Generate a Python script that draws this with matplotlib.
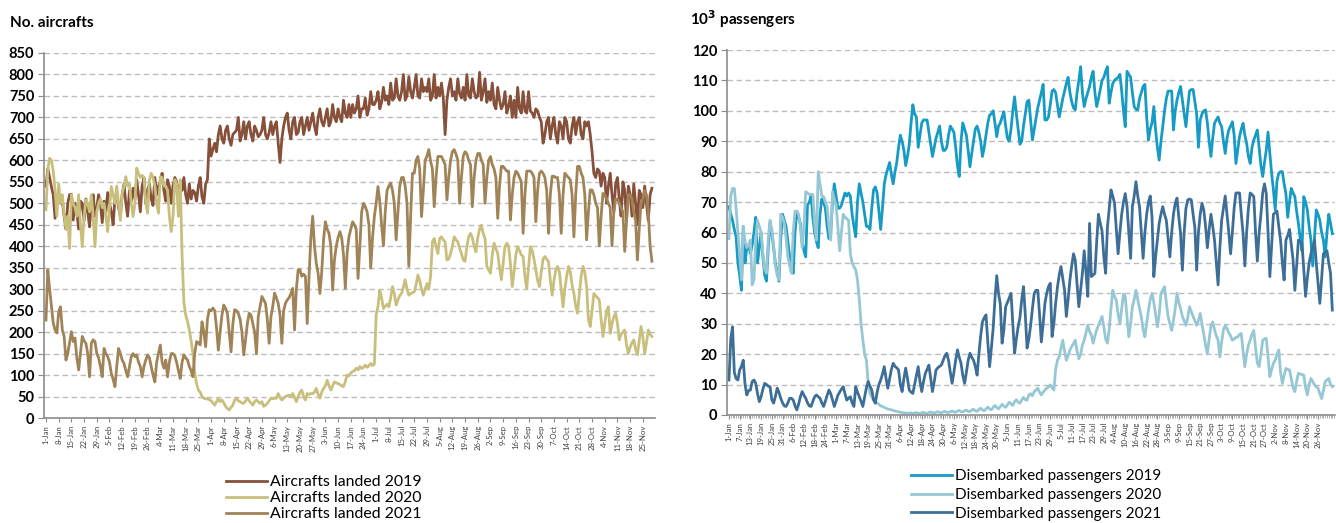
import matplotlib
matplotlib.use("Agg")
import matplotlib.pyplot as plt
import numpy as np

plt.rcParams['font.family'] = ['Lato', 'DejaVu Sans']

# ---------------- LEFT: aircrafts landed (daily, 1-Jan .. 30-Nov) ----------------
left_ticklabels = ["1-Jan","8-Jan","15-Jan","22-Jan","29-Jan","5-Feb","12-Feb","19-Feb","26-Feb",
    "4-Mar","11-Mar","18-Mar","25-Mar","1-Apr","8-Apr","15-Apr","22-Apr","29-Apr","6-May","13-May",
    "20-May","27-May","3-Jun","10-Jun","17-Jun","24-Jun","1-Jul","8-Jul","15-Jul","22-Jul","29-Jul",
    "5-Aug","12-Aug","19-Aug","26-Aug","2-Sep","9-Sep","16-Sep","23-Sep","30-Sep","7-Oct","14-Oct",
    "21-Oct","28-Oct","4-Nov","11-Nov","18-Nov","25-Nov"]

aircraft_2019 = [
540,580,560,538,520,465,515, 515,500,505,470,440,500,520, 521,461,500,480,440,505,500,
460,510,480,445,500,520,470, 490,520,500,455,505,480,525, 500,480,450,510,525,490,470,
520,545,500,470,530,505,535, 510,555,520,480,540,560,500, 530,545,510,495,560,520,540,
550,570,530,505,555,540,500, 540,560,550,515,545,530,560, 520,500,545,510,530,525,505,
540,560,515,500,545,555,650, 610,625,640,620,660,680,650, 640,670,680,650,635,660,665,
670,700,645,660,690,650,680, 690,660,645,680,670,655,660, 670,700,660,650,665,690,660,
680,690,640,595,650,680,700, 710,670,650,690,700,660,665, 690,700,660,680,700,670,690,
710,680,660,700,720,690,680, 700,720,680,690,730,700,690, 720,700,690,740,710,700,730,
700,730,710,720,750,700,720, 720,745,705,720,760,730,730, 740,760,720,735,770,740,750,
730,780,740,745,790,750,740, 760,800,740,750,795,760,745, 770,800,750,745,790,760,770,
760,790,740,750,800,745,770, 750,780,745,660,740,770,790, 750,760,740,790,755,745,770,
740,800,750,745,790,760,745, 750,805,740,760,790,735,760, 740,780,730,720,770,740,720,
730,760,710,725,750,700,740, 700,770,720,710,760,715,710, 760,715,710,700,720,715,700,
690,640,660,690,700,650,680, 700,660,640,690,680,650,700, 690,650,640,680,700,660,690,
700,660,650,690,680,690,660, 620,570,560,580,575,540,570, 560,500,540,570,520,480,545,
560,510,470,550,530,460,540, 520,470,545,500,450,530,520, 490,540,500,460,520,535]

aircraft_2020 = [
485,580,605,600,575,530,470, 545,500,520,475,440,470,395, 520,500,490,470,520,450,399,
470,508,500,480,520,470,399, 480,500,510,490,500,470,434, 490,539,520,500,540,500,460,
523,540,562,540,545,500,469, 500,582,570,560,565,560,500, 477,554,570,560,540,500,477,
562,560,540,540,530,470,434, 470,555,545,470,555,380,270, 240,225,205,180,150,105,80,
65,60,50,46,45,44,43, 40,35,30,38,45,38,42, 35,27,22,19,25,30,42,
46,40,38,35,34,40,46, 40,35,30,38,42,38,34, 38,27,30,34,40,46,45,
46,46,57,48,42,46,50, 52,53,50,57,48,38,50, 60,65,50,42,57,55,57,
57,60,69,55,46,60,69, 75,88,75,65,75,84,82, 80,78,75,73,85,100,98,
105,108,110,116,112,120,115, 118,123,118,122,127,122,125, 240,260,298,280,255,260,265,
259,280,306,290,263,275,285, 290,305,322,300,286,290,292, 294,310,333,320,300,286,300,
313,300,330,410,418,400,383, 418,422,415,410,368,370,383, 400,422,415,410,395,383,368,
365,400,422,430,420,400,387, 420,440,449,430,418,353,345, 337,380,407,395,383,350,322,
360,399,407,400,360,306,340, 380,399,390,380,376,330,302, 350,399,390,370,345,320,306,
340,370,376,370,364,320,286, 320,345,353,340,300,259,300, 330,353,340,310,290,260,244,
290,330,353,340,306,230,213, 250,290,285,280,275,230,190, 220,250,259,197,220,235,244,
220,182,195,200,205,170,150, 165,175,182,160,147,180,213, 190,150,175,205,195,190]

aircraft_2021 = [
228,345,300,260,221,205,198, 248,259,205,190,135,150,175, 201,178,186,140,112,150,190,
180,174,150,96,174,182,178, 150,140,120,96,162,150,143, 130,104,90,73,120,162,150,
135,127,110,96,120,143,150, 143,147,130,120,96,120,135, 147,140,120,100,84,130,150,
170,130,116,135,96,130,150, 150,145,130,110,92,130,147, 140,135,120,110,96,150,178,
175,170,224,200,166,230,252, 250,256,250,210,158,201,240, 263,255,244,200,154,220,252,
250,244,230,200,147,182,220, 244,240,220,200,150,236,260, 283,275,267,230,174,236,260,
291,280,267,240,174,250,267, 275,280,290,302,205,300,345, 345,330,335,330,220,330,420,
470,400,360,337,290,340,415, 457,440,430,401,298,368,400, 420,434,420,380,302,384,422,
440,457,450,440,325,400,480, 500,492,480,450,349,420,469, 500,539,504,450,401,480,530,
540,547,530,500,415,480,540, 560,560,540,500,353,470,570, 570,600,609,580,469,530,600,
610,625,598,580,492,560,609, 609,609,600,590,508,560,600, 620,625,615,600,500,560,610,
620,615,600,590,492,560,600, 616,616,600,590,500,560,600, 609,590,580,560,465,540,586,
586,580,575,575,461,520,560, 575,570,560,550,430,520,575, 575,575,570,560,457,530,570,
575,570,560,530,430,520,563, 563,560,560,520,430,520,570, 565,560,555,520,422,520,586,
586,570,560,520,415,480,531, 531,520,500,490,401,470,523, 520,510,500,490,401,480,510,
510,500,490,480,388,460,520, 520,510,480,460,368,440,500, 510,530,520,480,400,365]

# ---------------- RIGHT: disembarked passengers, thousands (daily) ----------------
right_ticklabels = ["1-Jan","7-Jan","13-Jan","19-Jan","25-Jan","31-Jan","6-Feb","12-Feb","18-Feb",
    "24-Feb","1-Mar","7-Mar","13-Mar","19-Mar","25-Mar","31-Mar","6-Apr","12-Apr","18-Apr","24-Apr",
    "30-Apr","6-May","12-May","18-May","24-May","30-May","5-Jun","11-Jun","17-Jun","23-Jun","29-Jun",
    "5-Jul","11-Jul","17-Jul","23-Jul","29-Jul","4-Aug","10-Aug","16-Aug","22-Aug","28-Aug","3-Sep",
    "9-Sep","15-Sep","21-Sep","27-Sep","3-Oct","9-Oct","15-Oct","21-Oct","27-Oct","2-Nov","8-Nov",
    "14-Nov","20-Nov","26-Nov"]

passengers_2019 = [
68.5,66,64,61,58.6,50,46,41,62,50,55,56,53,56,60,65,50,55,60,52,46,44,55,63,60,55,50,47,44,58,
66,64,62,57,52,49,46.6,60,67,65,63,57,54,52,69,70,72,65,60,57,55,66,71,70,68,62,58,60,70,76,
72,68,68,69,71,73,72,73,72,66,62,58.6,70,76,73,70,66,62,62,61,68,74,75,73,67,61,68,76,79,81,
83,79,76,80,83,88,92,90,87,82,85,89,96,102,99,98,88,92,96,97,97,97,93,89,85,88,91,93,95,90,
87,87,88,92,95,94,93,88,82,78.4,90,96,94,92,87,81.6,86,90,94,95,93,90,85,88,92,96,98.6,99,100,96,
91.5,95,96,98,99.7,95,91,90,94,100,104.6,99,94,89,90,95,99,103,103.5,97,90.4,94,97.5,101,103.5,106,
108.7,97,97,98,102,106.5,107,106,102,98,101,104,106.5,109,111,106,103,101,100.3,106,110,114.5,106,101.4,
104,106,108,111,113,106,101.4,104,107,110,111,113,114.5,102.5,106,109,110,110.5,111,112,106.5,100,94.8,113,
112,111,106,101.4,100.5,100.3,104,106,108,108.7,98,90.4,94,96,101.4,93.7,88,83.8,90,94.8,100,104,106.5,106.5,
106.5,93.7,100,103.5,106,108,103.5,99,94.8,101,106.5,107,107,103,99,88,97,99,100,100.3,96,90,85,91,
95.9,97,98,96,94.8,90,86,91,93.7,95,96.4,92,82.7,87,91.5,94,95.9,92,89.3,85,82.7,88,90.4,92,
93.7,88,82,78.4,83,87.1,93,86,79.5,74,67.4,77,79.5,80,80,76,72.8,65,70,74.5,73,71.8,67,63,
58,54,71.8,70,67.4,62,57.5,49,58,67.4,66,64,60,57.5,52,60,66,63,59.6]

passengers_2020 = [
58,72,74.5,74.5,68,60,53,44.4,62,57,55,56,57.5,42.8,44.4,58,64,62,60,53,48,46.6,58,64,61,56,49,46,44.4,66,
65,63,58,52,49,46.6,60,67,67,66,62,55,62,73.4,73,72.5,72.5,72.5,63,57.5,80,76,72,71.8,70,68.5,62,57.5,73.4,71,
69,62,54,60,66,65,64.5,64,53,50,48.8,47.7,44.4,38,30,24.6,20,18,10.4,7,6,5,4,3.9,3.5,3,2.8,2.5,2.2,2,
1.8,1.7,1.5,1.3,1.2,1,0.9,0.8,0.7,0.6,0.6,0.6,0.7,0.5,0.6,0.8,0.6,0.5,0.7,0.9,0.6,0.5,0.8,1.0,0.7,0.6,0.9,1.1,0.8,0.7,
1.0,1.2,0.9,0.8,1.1,1.3,1.0,0.9,1.3,1.5,1.1,1.0,1.4,1.6,1.2,1.1,1.6,1.9,1.4,1.2,1.8,2.2,1.7,1.4,2.0,2.6,2.0,1.7,2.5,3.1,
2.5,2.0,2.8,3.5,2.9,2.5,3.4,4.2,3.6,3.2,4.4,5.0,4.2,3.9,4.9,5.8,5.0,4.9,6.6,7.0,6.3,7.7,8.2,8.8,7.5,6.6,7.5,8.2,8.8,9.2,
9.9,9.0,8.2,15,18,19.1,22,24.6,21,18,19.5,21.4,22.5,23.5,24.6,21,18.5,20,23,24.6,27,29.5,27.5,26.3,23.6,26,28,29.5,31,32.4,
29,25,23.6,28,35,41,39,37.7,33,30,35,39.8,39,32,25.7,30,35.6,38,41,38,35,32.4,28,25.7,30,34.5,38,40,37,33,
29,33,40,41,42.2,37,32.4,30,27.8,31,35,40,37,35,32.4,31,29.5,32,35.6,34,32.4,31,29.5,31,33.4,30,26.8,23,20.2,25,
29.5,30.6,28,26,24.6,19.1,24,28,29.5,28.4,27,26,24.6,25,25.5,25.7,26.5,26.8,21,15.9,20,23,24.6,26.5,27.8,22,17,15.9,20,24.6,
25,25.2,19,12.6,15,17,18,20,21.4,14,10.4,13,15.3,15,14.8,12,9,7.7,11,13.7,13.5,13.3,13.1,9,6.6,10,12,11,9.9,9.3,
8.8,7,5.4,8,11,11.5,12,10,9.3]

passengers_2021 = [
11.5,25,29,14,12,11.5,14.8,16,18,10,6.6,8,8.2,11,11.5,10.4,7,4.4,6,8.5,10.4,10,9.5,9.3,5,3.9,6,8.8,7.5,5.5,
4,3,2.8,4,5.5,5.5,4.9,3,1.7,3.5,6,7.7,6.5,5.5,4,3,2.8,4.5,6,6.6,6,5.5,4,2.8,4.5,6.5,8.2,7,5,2.8,
4.5,6.5,7.5,8.5,9.3,7,4.9,5.5,6,4,2.8,9.3,7.5,6,4.5,2.8,6,9,11,9.5,8.2,5,3.9,7.5,10,11.5,13.5,15.9,12,8.8,
12,15,17,16,15.5,14.8,10,7.7,12,15.4,12,8.2,7.5,7.1,10,13,15.9,11,7.7,11,13.7,15,16.4,12,7.7,11,14.8,15.5,16,16.4,
18,19.5,20.3,18,14,10.4,14,18,21.4,19,17,13,10.4,14,18,20.3,19,18,16,13.1,20,26,30.6,32,32.9,24,15.9,22,28.5,38,
45.8,40,36.5,23.6,28,35.6,37,38.5,40,30,20.3,25,29,32,38,42.2,33,22,25,29.5,35,40,41,41,33,24,30,36.7,40,42.2,
43.3,25.8,30,36.7,42,46,48.8,45,41,32.4,38,44.4,49,53,50.9,43,35.6,41,46.6,54,47,39,63,45.5,46,46.6,57,66,63,60.5,
52,46.6,61.6,68,74,72,69.6,61,53,60,66,70,72.8,68.5,60,51.5,68.5,72,76.7,72,68.5,60,51.5,60,66,70,72,65,45.5,52,
57.5,63,66,68.5,66,64,58,52,60,66,69.6,71.3,65,59.6,47.6,60,68,70.7,71,70.7,66,61.6,47.6,60,66,69.6,67.4,62,55,61,
66,62,57.5,50,42.8,55,64,68,72,66,60,53,60,68,73,73,73,66,59.6,49,60,68,73,72.5,71.8,60,50.6,60,66,73,
76,72.8,60,45.5,56,66,66.5,67,62,57.5,50,44.4,57.5,59,61,56,51.1,41,49,57.5,57,56.4,48,39,45,50,53,55,57.5,50,
43.3,36.7,45,53,53.5,54,50,46.6,34.5]

# ---------------- styling ----------------
c_a19, c_a20, c_a21 = "#87503A", "#C9BF7C", "#A08458"
c_p19, c_p20, c_p21 = "#169BC4", "#95C7D5", "#3D6E97"
grid_c = "#BDBDBD"
axis_c = "#8C8C8C"

fig = plt.figure(figsize=(13.36, 5.23), dpi=100)
W, H = 1336, 523
axL = fig.add_axes([44 / W, 105 / H, 611 / W, 365 / H])
axR = fig.add_axes([727 / W, 108 / H, 608 / W, 365 / H])


def style(ax, ymax, ystep, labels, step, xmax):
    ax.set_ylim(0, ymax)
    ax.set_xlim(-1.1, xmax)
    ax.set_yticks(np.arange(0, ymax + 1, ystep))
    ax.set_yticklabels([f"{v:g}" for v in np.arange(0, ymax + 1, ystep)],
                       fontsize=10.5, fontweight='bold', color='black')
    ax.yaxis.grid(True, color=grid_c, linestyle=(0, (4, 2.5)), linewidth=1.0)
    ax.set_axisbelow(True)
    ax.set_xticks(np.arange(len(labels)) * step)
    ax.set_xticklabels(labels, rotation=90, fontsize=5.6, color='#404040')
    for s in ('top', 'right'):
        ax.spines[s].set_visible(False)
    for s in ('left', 'bottom'):
        ax.spines[s].set_color(axis_c)
        ax.spines[s].set_linewidth(1.2)
    ax.tick_params(axis='y', length=4, color=axis_c, pad=3)
    ax.tick_params(axis='x', length=3, color=axis_c, pad=2)


style(axL, 850, 50, left_ticklabels, 7, 335.7)
style(axR, 120, 10, right_ticklabels, 6, 339.5)
axR.set_xticks(np.arange(0, 340), minor=True)
axR.tick_params(axis='x', which='minor', length=2, color='#A0A0A0')

lw = 2.0
l1, = axL.plot(np.arange(len(aircraft_2019)), aircraft_2019, color=c_a19, lw=lw, label="Aircrafts landed 2019")
l2, = axL.plot(np.arange(len(aircraft_2020)), aircraft_2020, color=c_a20, lw=lw, label="Aircrafts landed 2020")
l3, = axL.plot(np.arange(len(aircraft_2021)), aircraft_2021, color=c_a21, lw=lw, label="Aircrafts landed 2021")

r1, = axR.plot(np.arange(len(passengers_2019)), passengers_2019, color=c_p19, lw=lw, label="Disembarked passengers 2019")
r2, = axR.plot(np.arange(len(passengers_2020)), passengers_2020, color=c_p20, lw=lw, label="Disembarked passengers 2020")
r3, = axR.plot(np.arange(len(passengers_2021)), passengers_2021, color=c_p21, lw=lw, label="Disembarked passengers 2021")

fig.text(10 / W, 1 - 27 / H, "No. aircrafts", fontsize=11, fontweight='bold', ha='left', va='baseline')
fig.text(690 / W, 1 - 25 / H, "10$^{\\mathbf{3}}$ passengers", fontsize=11, fontweight='bold', ha='left', va='baseline')

fig.legend(handles=[l1, l2, l3], loc='upper left', bbox_to_anchor=(226 / W, 1 - 475 / H),
           frameon=False, fontsize=11.4, handlelength=2.6, handletextpad=0.2,
           labelspacing=0.13, borderpad=0, borderaxespad=0)
fig.legend(handles=[r1, r2, r3], loc='upper left', bbox_to_anchor=(911 / W, 1 - 469 / H),
           frameon=False, fontsize=11.0, handlelength=2.7, handletextpad=0.2,
           labelspacing=0.32, borderpad=0, borderaxespad=0)

fig.savefig("out.png", dpi=100)
